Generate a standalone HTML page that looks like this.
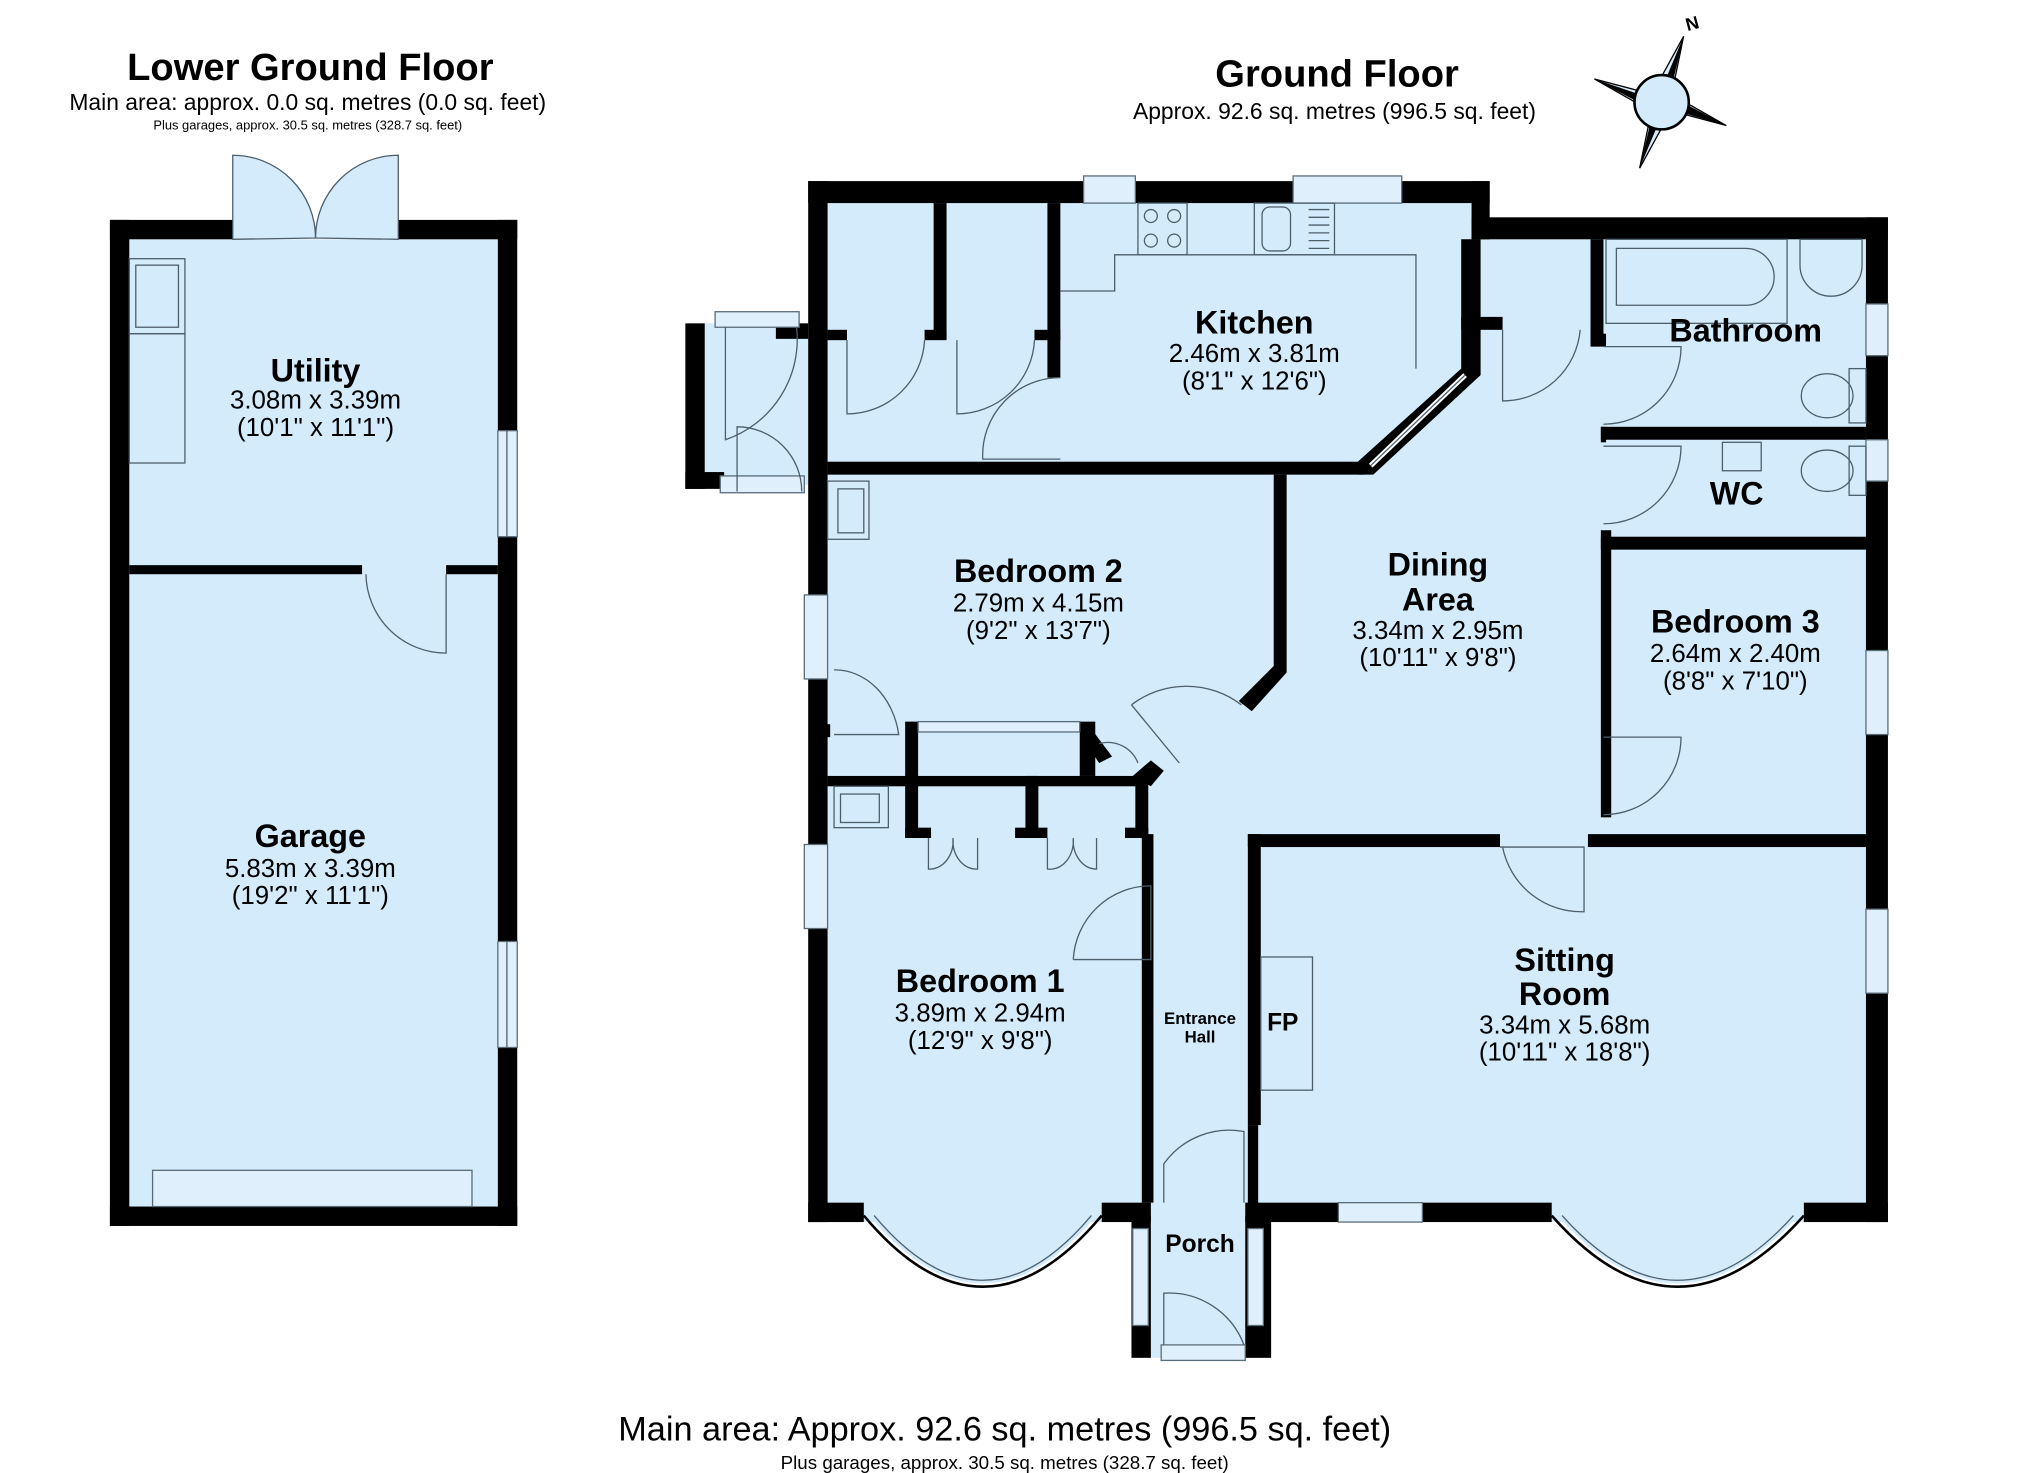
<!DOCTYPE html>
<html><head><meta charset="utf-8"><style>
html,body{margin:0;padding:0;background:#fff}
svg{display:block}
text{font-family:"Liberation Sans",Arial,sans-serif;fill:#000}
.b{font-weight:bold}
</style></head><body>
<svg width="2025" height="1473" viewBox="0 0 1566 1139" xmlns="http://www.w3.org/2000/svg">
<defs>
<style>
.f{fill:#d3ebfb}
.w{fill:#000}
.win{fill:#dff0fc;stroke:#5a6b78;stroke-width:1}
.ln{fill:none;stroke:#4d5e6b;stroke-width:1}
</style>
</defs>

<text x="240" y="62" font-size="29.5" text-anchor="middle" class="b">Lower Ground Floor</text>
<text x="238" y="85" font-size="17.7" text-anchor="middle">Main area: approx. 0.0 sq. metres (0.0 sq. feet)</text>
<text x="238" y="100" font-size="10" text-anchor="middle">Plus garages, approx. 30.5 sq. metres (328.7 sq. feet)</text>

<rect x="100" y="185" width="285" height="748" class="f"/>
<rect x="85" y="170" width="15" height="778" class="w"/>
<rect x="385" y="170" width="15" height="778" class="w"/>
<rect x="85" y="170" width="95" height="15" class="w"/>
<rect x="308" y="170" width="92" height="15" class="w"/>
<rect x="85" y="933" width="315" height="15" class="w"/>
<path d="M180,185 L180,120 A64,64 0 0 1 244,184 Z" class="ln" style="fill:#d3ebfb"/>
<path d="M308,185 L308,120 A64,64 0 0 0 244,184 Z" class="ln" style="fill:#d3ebfb"/>
<rect x="100" y="437" width="180" height="7" class="w"/>
<rect x="345" y="437" width="40" height="7" class="w"/>
<path d="M345,444 L345,505 A62,62 0 0 1 283,444" class="ln"/>
<rect x="100" y="200" width="43" height="58" class="ln"/>
<rect x="105" y="205" width="33" height="48" class="ln"/>
<rect x="100" y="258" width="43" height="100" class="ln"/>
<rect x="385" y="333" width="15" height="82" class="win"/>
<line x1="392" y1="333" x2="392" y2="415" class="ln"/>
<rect x="385" y="728" width="15" height="82" class="win"/>
<line x1="392" y1="728" x2="392" y2="810" class="ln"/>
<rect x="118" y="905" width="247" height="28" class="win"/>

<text x="244" y="295" font-size="25" text-anchor="middle" class="b">Utility</text>
<text x="244" y="316" font-size="20" text-anchor="middle">3.08m x 3.39m</text>
<text x="244" y="337" font-size="20" text-anchor="middle">(10'1" x 11'1")</text>
<text x="240" y="655" font-size="25" text-anchor="middle" class="b">Garage</text>
<text x="240" y="678" font-size="20" text-anchor="middle">5.83m x 3.39m</text>
<text x="240" y="699" font-size="20" text-anchor="middle">(19'2" x 11'1")</text>

<text x="1034" y="67" font-size="29.5" text-anchor="middle" class="b">Ground Floor</text>
<text x="1032" y="92" font-size="17.7" text-anchor="middle">Approx. 92.6 sq. metres (996.5 sq. feet)</text>

<g transform="translate(15,0)">
<polygon points="1287,28 1280,62 1264,70" fill="#d3ebfb" stroke="#000"/>
<polygon points="1287,28 1278,66 1272,64" fill="#000"/>
<polygon points="1218,61 1252,70 1262,86" fill="#d3ebfb" stroke="#000"/>
<polygon points="1218,61 1256,74 1254,80" fill="#000"/>
<polygon points="1320,97 1286,88 1276,72" fill="#d3ebfb" stroke="#000"/>
<polygon points="1320,97 1282,86 1284,78" fill="#000"/>
<polygon points="1253,130 1260,96 1276,88" fill="#d3ebfb" stroke="#000"/>
<polygon points="1253,130 1262,92 1268,94" fill="#000"/>
<circle cx="1270" cy="79" r="21" fill="#d3ebfb" stroke="#000" stroke-width="2"/>
</g>
<text x="1305" y="24" font-size="14" class="b" transform="rotate(-15 1305 24)">N</text>

<polygon class="f" points="640,157 1138,157 1138,185 1443,185 1443,945 640,945"/>
<path d="M668,935 Q760,1050 852,935 Z" class="f"/>
<path d="M1200,935 Q1297,1050 1395,935 Z" class="f"/>
<rect x="890" y="935" width="75" height="115" class="f"/>
<rect x="545" y="250" width="80" height="125" class="f"/>

<path d="M668,940 Q760,1050 852,940" fill="none" stroke="#000" stroke-width="2"/>
<path d="M676,940 Q760,1040 844,940" class="ln"/>
<path d="M1200,940 Q1297,1050 1395,940" fill="none" stroke="#000" stroke-width="2"/>
<path d="M1208,940 Q1297,1040 1387,940" class="ln"/>

<rect x="625" y="140" width="527" height="17" class="w"/>
<rect x="1138" y="140" width="14" height="45" class="w"/>
<rect x="1138" y="168" width="322" height="17" class="w"/>
<rect x="1443" y="168" width="17" height="777" class="w"/>
<rect x="625" y="140" width="15" height="805" class="w"/>
<rect x="625" y="930" width="43" height="15" class="w"/>
<rect x="852" y="930" width="38" height="15" class="w"/>
<rect x="963" y="930" width="72" height="15" class="w"/>
<rect x="1100" y="930" width="100" height="15" class="w"/>
<rect x="1395" y="930" width="65" height="15" class="w"/>
<rect x="530" y="250" width="15" height="128" class="w"/>
<rect x="530" y="365" width="30" height="13" class="w"/>
<rect x="600" y="250" width="25" height="12" class="w"/>
<rect x="553" y="241" width="65" height="12" class="win"/>
<rect x="557" y="368" width="65" height="13" class="win"/>
<path d="M561,253 L561,340 A82,82 0 0 0 616,253" class="ln"/>
<path d="M570,380 L570,330 A50,50 0 0 1 620,380" class="ln"/>
<rect x="875" y="940" width="15" height="110" class="w"/>
<rect x="963" y="940" width="20" height="110" class="w"/>
<rect x="876" y="950" width="12" height="75" class="win"/>
<rect x="965" y="950" width="12" height="75" class="win"/>
<rect x="898" y="1040" width="65" height="12" class="win"/>
<path d="M900,1040 L900,1000 A62,62 0 0 1 962,1040" class="ln"/>
<path d="M900,930 L900,900 A62,62 0 0 1 962,875 L962,930" class="ln"/>

<rect x="838" y="136" width="40" height="21" class="win"/>
<rect x="1000" y="136" width="84" height="21" class="win"/>
<rect x="1443" y="235" width="17" height="40" class="win"/>
<rect x="1443" y="340" width="17" height="32" class="win"/>
<rect x="1443" y="503" width="17" height="65" class="win"/>
<rect x="1443" y="703" width="17" height="65" class="win"/>
<rect x="622" y="460" width="18" height="65" class="win"/>
<rect x="622" y="653" width="18" height="65" class="win"/>
<rect x="1035" y="930" width="65" height="15" class="win"/>

<rect x="640" y="357" width="415" height="10" class="w"/>
<polygon class="w" points="1050,357 1130,285 1130,185 1145,185 1145,290 1062,367 1050,367"/>
<line x1="1060" y1="360" x2="1133" y2="290" stroke="#fff" stroke-width="4"/>
<line x1="1060" y1="360" x2="1133" y2="290" class="ln"/>
<rect x="722" y="157" width="10" height="105" class="w"/>
<rect x="810" y="157" width="10" height="135" class="w"/>
<rect x="640" y="255" width="15" height="8" class="w"/>
<rect x="715" y="255" width="17" height="8" class="w"/>
<rect x="800" y="255" width="20" height="8" class="w"/>
<rect x="1130" y="245" width="32" height="10" class="w"/>
<rect x="985" y="367" width="10" height="153" class="w"/>
<polygon class="w" points="985,515 995,520 968,550 958,542"/>
<rect x="1230" y="185" width="10" height="80" class="w"/>
<rect x="1230" y="258" width="12" height="10" class="w"/>
<rect x="1238" y="330" width="205" height="10" class="w"/>
<rect x="1238" y="330" width="4" height="12" class="w"/>
<rect x="1238" y="415" width="205" height="10" class="w"/>
<rect x="1238" y="410" width="8" height="222" class="w"/>
<rect x="1228" y="645" width="215" height="10" class="w"/>
<rect x="965" y="645" width="195" height="10" class="w"/>
<rect x="965" y="645" width="10" height="225" class="w"/>
<rect x="965" y="870" width="8" height="70" class="w"/>
<rect x="883" y="645" width="9" height="285" class="w"/>
<rect x="640" y="600" width="245" height="8" class="w"/>
<rect x="700" y="558" width="10" height="90" class="w"/>
<rect x="793" y="600" width="10" height="48" class="w"/>
<rect x="878" y="600" width="10" height="48" class="w"/>
<rect x="700" y="640" width="20" height="8" class="w"/>
<rect x="785" y="640" width="25" height="8" class="w"/>
<rect x="870" y="640" width="18" height="8" class="w"/>
<rect x="630" y="560" width="12" height="10" class="w"/>
<rect x="835" y="558" width="12" height="42" class="w"/>
<polygon class="w" points="845,565 860,585 850,590 840,575"/>
<polygon class="w" points="876,600 890,588 900,596 890,608"/>
<rect x="710" y="558" width="125" height="8" class="win"/>
<path d="M718,648 L718,672 A18,22 0 0 0 737,648 M756,648 L756,672 A18,22 0 0 1 737,648" class="ln"/>
<path d="M810,648 L810,672 A18,22 0 0 0 830,648 M848,648 L848,672 A18,22 0 0 1 830,648" class="ln"/>

<path d="M655,263 L655,320 A60,60 0 0 0 715,263" class="ln"/>
<path d="M740,263 L740,320 A60,60 0 0 0 800,263" class="ln"/>
<path d="M820,292 A60,60 0 0 0 760,355 L820,355" class="ln"/>
<path d="M1162,255 L1162,310 A60,60 0 0 0 1222,255" class="ln"/>
<path d="M1240,268 L1300,268 A60,60 0 0 1 1240,328" class="ln"/>
<path d="M1240,345 L1300,345 A60,60 0 0 1 1240,405" class="ln"/>
<path d="M1240,570 L1300,570 A60,60 0 0 1 1240,630" class="ln"/>
<path d="M1160,655 L1225,655 L1225,705 A62,62 0 0 1 1162,655" class="ln"/>
<path d="M830,742 L890,742 L890,685 A60,60 0 0 0 830,742" class="ln"/>
<path d="M645,518 A50,60 0 0 1 695,568 L645,568" class="ln"/>
<path d="M875,545 A70,70 0 0 1 960,545 M875,545 L912,590" class="ln"/>
<path d="M850,575 A25,25 0 0 1 880,590" class="ln"/>

<rect x="880" y="157" width="38" height="40" class="ln"/>
<circle cx="890" cy="167" r="5" class="ln"/><circle cx="908" cy="167" r="5" class="ln"/>
<circle cx="890" cy="186" r="5" class="ln"/><circle cx="908" cy="186" r="5" class="ln"/>
<rect x="970" y="157" width="62" height="40" class="ln"/>
<rect x="976" y="160" width="22" height="34" rx="6" class="ln"/>
<line x1="1012" y1="162" x2="1028" y2="162" class="ln"/><line x1="1012" y1="168" x2="1028" y2="168" class="ln"/>
<line x1="1012" y1="174" x2="1028" y2="174" class="ln"/><line x1="1012" y1="180" x2="1028" y2="180" class="ln"/>
<line x1="1012" y1="186" x2="1028" y2="186" class="ln"/><line x1="1012" y1="192" x2="1028" y2="192" class="ln"/>
<polyline points="820,225 862,225 862,197 1095,197 1095,285" class="ln"/>
<rect x="1242" y="185" width="140" height="65" class="ln"/>
<path d="M1250,192 L1350,192 A22,22 0 0 1 1350,236 L1250,236 Z" class="ln"/>
<path d="M1392,185 L1440,185 L1440,205 A24,24 0 0 1 1392,205 Z" class="ln"/>
<rect x="1430" y="285" width="13" height="42" class="ln"/>
<ellipse cx="1413" cy="306" rx="20" ry="17" class="ln"/>
<rect x="1430" y="345" width="13" height="38" class="ln"/>
<ellipse cx="1413" cy="364" rx="20" ry="16" class="ln"/>
<rect x="1332" y="342" width="30" height="22" class="ln"/>
<rect x="640" y="372" width="32" height="45" class="ln"/><rect x="648" y="378" width="20" height="34" class="ln"/>
<rect x="645" y="608" width="42" height="32" class="ln"/><rect x="650" y="614" width="30" height="22" class="ln"/>
<rect x="975" y="740" width="40" height="103" class="ln"/>

<g font-size="20" text-anchor="middle">
<text x="970" y="258" font-size="25" class="b">Kitchen</text>
<text x="970" y="280">2.46m x 3.81m</text>
<text x="970" y="301">(8'1" x 12'6")</text>
<text x="1350" y="264" font-size="25" class="b">Bathroom</text>
<text x="1343" y="390" font-size="25" class="b">WC</text>
<text x="803" y="450" font-size="25" class="b">Bedroom 2</text>
<text x="803" y="473">2.79m x 4.15m</text>
<text x="803" y="494">(9'2" x 13'7")</text>
<text x="1112" y="445" font-size="25" class="b">Dining</text>
<text x="1112" y="472" font-size="25" class="b">Area</text>
<text x="1112" y="494">3.34m x 2.95m</text>
<text x="1112" y="515">(10'11" x 9'8")</text>
<text x="1342" y="489" font-size="25" class="b">Bedroom 3</text>
<text x="1342" y="512">2.64m x 2.40m</text>
<text x="1342" y="533">(8'8" x 7'10")</text>
<text x="758" y="767" font-size="25" class="b">Bedroom 1</text>
<text x="758" y="790">3.89m x 2.94m</text>
<text x="758" y="811">(12'9" x 9'8")</text>
<text x="1210" y="751" font-size="25" class="b">Sitting</text>
<text x="1210" y="777" font-size="25" class="b">Room</text>
<text x="1210" y="799">3.34m x 5.68m</text>
<text x="1210" y="820">(10'11" x 18'8")</text>
<text x="992" y="797" font-size="19" class="b">FP</text>
<text x="928" y="792" font-size="13" class="b">Entrance</text>
<text x="928" y="806" font-size="13" class="b">Hall</text>
<text x="928" y="968" font-size="19" class="b">Porch</text>
</g>

<text x="777" y="1114" font-size="26.5" text-anchor="middle">Main area: Approx. 92.6 sq. metres (996.5 sq. feet)</text>
<text x="777" y="1136" font-size="14.5" text-anchor="middle">Plus garages, approx. 30.5 sq. metres (328.7 sq. feet)</text>
</svg>
</body></html>
